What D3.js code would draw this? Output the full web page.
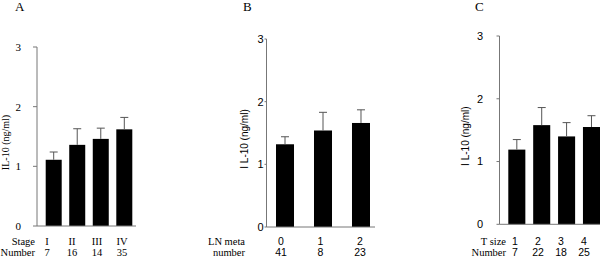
<!DOCTYPE html>
<html>
<meta charset="utf-8">
<head>
  <title>IL-10 by stage, LN meta, T size</title>
</head>
<style>
body { margin: 0; background: white; }
svg { display: block; }
</style>
<body>
<div id="chart"></div>
<script src="https://cdn.jsdelivr.net/npm/d3@7"></script>
<script>

// data
var stageCats = ["I", "II", "III", "IV"];
var stageN = [7, 16, 14, 35];
var stageMean = [1.11, 1.36, 1.46, 1.62];
var stageErr = [0.13, 0.27, 0.18, 0.20];

var lnCats = ["0", "1", "2"];
var lnN = [41, 8, 23];
var lnMean = [1.32, 1.54, 1.66];
var lnErr = [0.12, 0.29, 0.21];

var tsizeCats = ["1", "2", "3", "4"];
var tsizeN = [7, 22, 18, 25];
var tsizeMean = [1.19, 1.58, 1.40, 1.55];
var tsizeErr = [0.16, 0.28, 0.22, 0.18];

var yTicks = [0, 1, 2, 3];

var serif = "'Liberation Serif', 'Times New Roman', serif";
var sans = "'Liberation Sans', Arial, sans-serif";

var svg = d3.select("#chart").append("svg")
  .attr("width", 600)
  .attr("height", 259);

// layout per panel
var panels = [
  {letter: "A", letterX: 15, cats: stageCats, n: stageN, mean: stageMean, err: stageErr,
   row1: "Stage", row2: "Number", rowX: 35,
   axisX: 37, axisEnd: 136, y0: 226, y3: 47, bars: [45.7, 132.3], pad: 0.32,
   labels: [47, 122], tickLabelX: 21, tickFont: serif, valFont: serif, rowFont: serif,
   yTitle: "IL-10 (ng/ml)", yTitleX: 9, tickLen: 4},
  {letter: "B", letterX: 243, cats: lnCats, n: lnN, mean: lnMean, err: lnErr,
   row1: "LN meta", row2: "number", rowX: 245,
   axisX: 266.5, axisEnd: 375, y0: 227, y3: 39, bars: [276, 370], pad: 0.526,
   labels: [281, 360], tickLabelX: 263.5, tickFont: sans, valFont: sans, rowFont: serif,
   yTitle: "I L-10 (ng/ml)", yTitleX: 248, tickLen: 2},
  {letter: "C", letterX: 475, cats: tsizeCats, n: tsizeN, mean: tsizeMean, err: tsizeErr,
   row1: "T size", row2: "Number", rowX: 506,
   axisX: 499.5, axisEnd: 600, y0: 224.3, y3: 36, bars: [508.3, 600], pad: 0.315,
   labels: [515, 584], tickLabelX: 483, tickFont: sans, valFont: sans, rowFont: serif,
   yTitle: "I L-10 (ng/ml)", yTitleX: 469, tickLen: 3}
];

panels.forEach(function(p) {
  var g = svg.append("g");

  var y = d3.scaleLinear().domain([0, 3]).range([p.y0, p.y3]);
  var x = d3.scaleBand().domain(p.cats).range(p.bars).paddingInner(p.pad).paddingOuter(0);
  var xl = d3.scalePoint().domain(p.cats).range(p.labels);

  var data = p.cats.map(function(c, i) {
    return {cat: c, n: p.n[i], mean: p.mean[i], err: p.err[i]};
  });

  // panel letter
  g.append("text")
    .attr("x", p.letterX).attr("y", 11)
    .style("font-family", serif).style("font-size", "13px")
    .text(p.letter);

  // bars
  g.selectAll("rect.bar").data(data).enter().append("rect")
    .attr("class", "bar")
    .attr("x", function(d) { return x(d.cat); })
    .attr("width", x.bandwidth())
    .attr("y", function(d) { return y(d.mean); })
    .attr("height", function(d) { return y(0) - y(d.mean); })
    .attr("fill", "black");

  // error bars
  var cap = 4;
  g.selectAll("line.err").data(data).enter().append("line")
    .attr("x1", function(d) { return x(d.cat) + x.bandwidth() / 2; })
    .attr("x2", function(d) { return x(d.cat) + x.bandwidth() / 2; })
    .attr("y1", function(d) { return y(d.mean); })
    .attr("y2", function(d) { return y(d.mean + d.err); })
    .attr("stroke", "#555").attr("stroke-width", 1);
  g.selectAll("line.cap").data(data).enter().append("line")
    .attr("x1", function(d) { return x(d.cat) + x.bandwidth() / 2 - cap; })
    .attr("x2", function(d) { return x(d.cat) + x.bandwidth() / 2 + cap; })
    .attr("y1", function(d) { return y(d.mean + d.err); })
    .attr("y2", function(d) { return y(d.mean + d.err); })
    .attr("stroke", "#555").attr("stroke-width", 1);

  // y axis
  g.append("line")
    .attr("x1", p.axisX).attr("x2", p.axisX)
    .attr("y1", y(0)).attr("y2", y(3))
    .attr("stroke", "#777");
  g.append("line")
    .attr("x1", p.axisX).attr("x2", p.axisEnd)
    .attr("y1", y(0)).attr("y2", y(0))
    .attr("stroke", "#777");
  g.selectAll("line.tick").data(yTicks).enter().append("line")
    .attr("x1", p.axisX - p.tickLen).attr("x2", p.axisX)
    .attr("y1", function(d) { return y(d); })
    .attr("y2", function(d) { return y(d); })
    .attr("stroke", "#777");
  g.selectAll("text.tick").data(yTicks).enter().append("text")
    .attr("x", p.tickLabelX)
    .attr("y", function(d) { return y(d); })
    .attr("dy", "0.35em")
    .attr("text-anchor", "end")
    .style("font-family", p.tickFont).style("font-size", "11px")
    .text(function(d) { return d; });

  // y title
  g.append("text")
    .attr("transform", "translate(" + p.yTitleX + "," + ((p.y0 + p.y3) / 2 + 6) + ") rotate(-90)")
    .attr("text-anchor", "middle")
    .style("font-family", p.tickFont).style("font-size", "10px")
    .text(p.yTitle);

  // category rows
  g.append("text")
    .attr("x", p.rowX).attr("y", 245)
    .attr("text-anchor", "end")
    .style("font-family", p.rowFont).style("font-size", "10.5px")
    .text(p.row1);
  g.append("text")
    .attr("x", p.rowX).attr("y", 256)
    .attr("text-anchor", "end")
    .style("font-family", p.rowFont).style("font-size", "10.5px")
    .text(p.row2);

  g.selectAll("text.cat").data(data).enter().append("text")
    .attr("x", function(d) { return xl(d.cat); })
    .attr("y", 245)
    .attr("text-anchor", "middle")
    .style("font-family", p.valFont).style("font-size", "10.5px")
    .text(function(d) { return d.cat; });
  g.selectAll("text.num").data(data).enter().append("text")
    .attr("x", function(d) { return xl(d.cat); })
    .attr("y", 256)
    .attr("text-anchor", "middle")
    .style("font-family", p.valFont).style("font-size", "10.5px")
    .text(function(d) { return d.n; });
});

</script>
</body>
</html>
